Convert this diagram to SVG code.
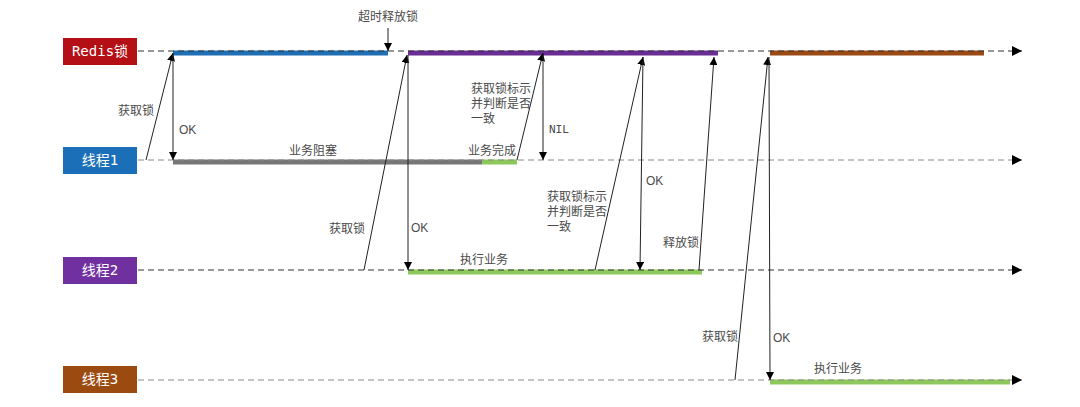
<svg xmlns="http://www.w3.org/2000/svg" width="1080" height="407" viewBox="0 0 1080 407">
<style>
.lbl{font-family:"Noto Sans CJK SC","Liberation Sans",sans-serif;font-size:12px;fill:#4a4a4a}
.ok{font-family:"Liberation Sans",sans-serif;font-size:12px;fill:#4a4a4a}
.mono{font-family:"DejaVu Sans Mono","Noto Sans CJK SC",monospace;font-size:11px;fill:#4a4a4a}
.hd{font-family:"DejaVu Sans Mono","Noto Sans CJK SC",monospace;font-size:14px;fill:#fff;text-anchor:middle}
.tl{stroke-width:1;stroke-dasharray:6 4;fill:none}
.bar{stroke-width:5;fill:none}
.msg{stroke:#222;stroke-width:1;fill:none}
</style>
<defs>
<marker id="ah" viewBox="0 0 10 10" refX="10" refY="5" markerWidth="8" markerHeight="8" markerUnits="userSpaceOnUse" orient="auto"><path d="M0,0 L10,5 L0,10 z" fill="#000"/></marker>
<marker id="ta" viewBox="0 0 10 10" refX="10" refY="5" markerWidth="10" markerHeight="10" markerUnits="userSpaceOnUse" orient="auto"><path d="M0,0 L10,5 L0,10 z" fill="#000"/></marker>
</defs>
<g id="bars">
<line class="bar" x1="173" y1="53" x2="388" y2="53" stroke="#1f6fb5"/>
<line class="bar" x1="408" y1="53" x2="718" y2="53" stroke="#6a2d96"/>
<line class="bar" x1="770" y1="53" x2="984" y2="53" stroke="#9b4a14"/>
<line class="bar" x1="173" y1="162" x2="482" y2="162" stroke="#777"/>
<line class="bar" x1="482" y1="162" x2="517" y2="162" stroke="#8cc85a"/>
<line class="bar" x1="408" y1="272" x2="702" y2="272" stroke="#8cc85a"/>
<line class="bar" x1="770" y1="382" x2="1010" y2="382" stroke="#8cc85a"/>
</g>
<g id="timelines">
<line class="tl" x1="138" y1="51" x2="1022" y2="51" stroke="#333" marker-end="url(#ta)"/>
<line class="tl" x1="138" y1="160" x2="1022" y2="160" stroke="#888" marker-end="url(#ta)"/>
<line class="tl" x1="138" y1="270" x2="1022" y2="270" stroke="#333" marker-end="url(#ta)"/>
<line class="tl" x1="138" y1="380" x2="1022" y2="380" stroke="#888" marker-end="url(#ta)"/>
</g>
<g id="node-redis"><rect x="63" y="38" width="74" height="27" fill="#b30f14"/><text class="hd" x="100" y="56">Redis锁</text></g>
<g id="node-t1"><rect x="63" y="147" width="74" height="27" fill="#1a6fb8"/><text class="hd" x="100" y="165">线程1</text></g>
<g id="node-t2"><rect x="63" y="257" width="74" height="27" fill="#7030a0"/><text class="hd" x="100" y="275">线程2</text></g>
<g id="node-t3"><rect x="63" y="366" width="74" height="27" fill="#9b4a10"/><text class="hd" x="100" y="384">线程3</text></g>
<g id="connectors">
<line class="msg" x1="146" y1="160" x2="173" y2="53" marker-end="url(#ah)"/>
<line class="msg" x1="173" y1="53" x2="173" y2="160" stroke="#666" marker-end="url(#ah)"/>
<line class="msg" x1="388" y1="28" x2="388" y2="51" marker-end="url(#ah)"/>
<line class="msg" x1="364" y1="270" x2="407" y2="55" marker-end="url(#ah)"/>
<line class="msg" x1="408" y1="55" x2="408" y2="270" marker-end="url(#ah)"/>
<line class="msg" x1="517" y1="160" x2="543" y2="53" marker-end="url(#ah)"/>
<line class="msg" x1="543" y1="53" x2="543" y2="160" marker-end="url(#ah)"/>
<line class="msg" x1="595" y1="270" x2="643" y2="57" marker-end="url(#ah)"/>
<line class="msg" x1="643" y1="57" x2="640" y2="270" marker-end="url(#ah)"/>
<line class="msg" x1="699" y1="270" x2="714" y2="57" marker-end="url(#ah)"/>
<line class="msg" x1="735" y1="380" x2="768" y2="57" marker-end="url(#ah)"/>
<line class="msg" x1="769" y1="57" x2="770" y2="380" marker-end="url(#ah)"/>
</g>
<g id="labels">
<text class="lbl" x="358" y="21">超时释放锁</text>
<text class="lbl" x="118" y="115">获取锁</text>
<text class="ok" x="179" y="134">OK</text>
<text class="lbl" x="289" y="155">业务阻塞</text>
<text class="lbl" x="471" y="93">获取锁标示</text>
<text class="lbl" x="471" y="108">并判断是否</text>
<text class="lbl" x="471" y="123">一致</text>
<text class="lbl" x="468" y="155">业务完成</text>
<text class="mono" x="549" y="133">NIL</text>
<text class="lbl" x="329" y="233">获取锁</text>
<text class="ok" x="411" y="232">OK</text>
<text class="lbl" x="547" y="201">获取锁标示</text>
<text class="lbl" x="547" y="216">并判断是否</text>
<text class="lbl" x="547" y="231">一致</text>
<text class="ok" x="646" y="185">OK</text>
<text class="lbl" x="663" y="247">释放锁</text>
<text class="lbl" x="460" y="264">执行业务</text>
<text class="lbl" x="702" y="341">获取锁</text>
<text class="ok" x="773" y="342">OK</text>
<text class="lbl" x="814" y="373">执行业务</text>
</g>
</svg>
